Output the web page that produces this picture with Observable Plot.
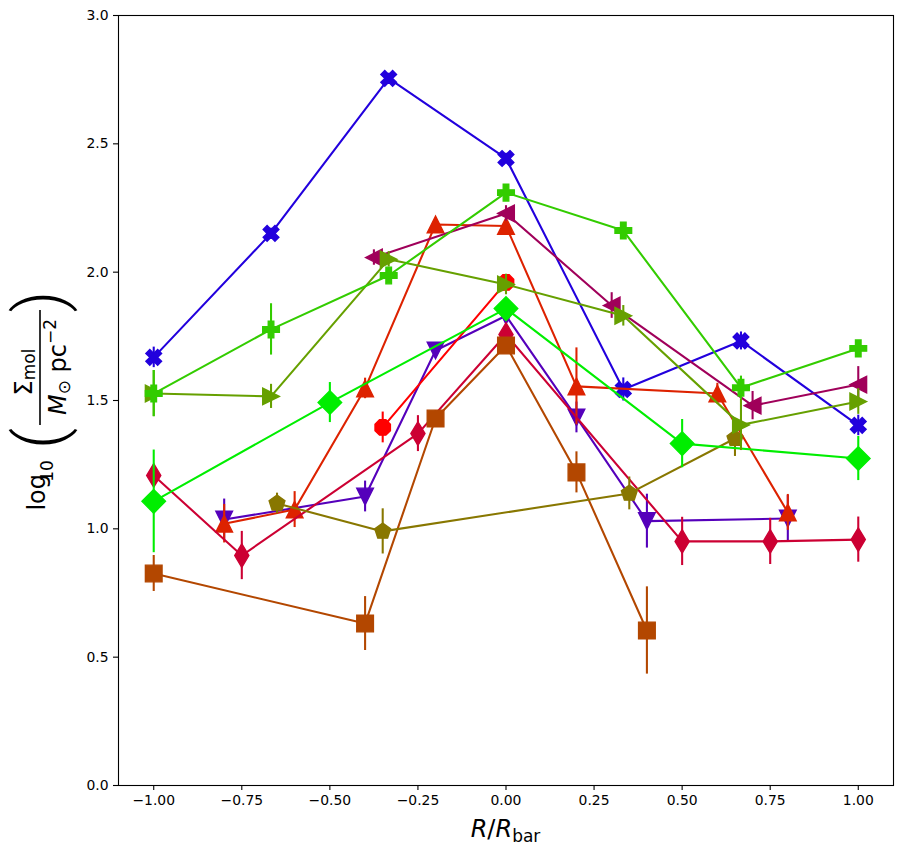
<!DOCTYPE html>
<html>
<head>
<meta charset="utf-8">
<script src="https://cdn.jsdelivr.net/npm/d3@7"></script>
<script src="https://cdn.jsdelivr.net/npm/@observablehq/plot@0.6"></script>
<style>
  html, body { margin: 0; padding: 0; background: white; }
  #chart { width: 906px; height: 854px; }
</style>
</head>
<body>
<div id="chart"></div>
<script>
// ---- tick values ----
const xTicks = [-1, -0.75, -0.5, -0.25, 0, 0.25, 0.5, 0.75, 1];
const yTicks = [0, 0.5, 1, 1.5, 2, 2.5, 3];

// ---- series data ----
const blueX = [-1, -0.667, -0.333, 0, 0.333, 0.667, 1];
const blueY = [1.668, 2.151, 2.755, 2.443, 1.543, 1.732, 1.403];
const blueE = [0.04, 0.02, 0.02, 0.02, 0.045, 0.035, 0.04];

const purpleX = [-0.8, -0.4, -0.2, 0, 0.2, 0.4, 0.8];
const purpleY = [1.036, 1.126, 1.695, 1.83, 1.434, 1.03, 1.04];
const purpleE = [0.08, 0.06, 0.03, 0.03, 0.06, 0.105, 0.09];

const redTriX = [-0.8, -0.6, -0.4, -0.2, 0, 0.2, 0.6, 0.8];
const redTriY = [1.02, 1.075, 1.547, 2.186, 2.18, 1.555, 1.527, 1.064];
const redTriE = [0.075, 0.07, 0.04, 0.02, 0.02, 0.15, 0.04, 0.07];

const octX = [-0.35, 0];
const octY = [1.395, 1.96];
const octE = [0.06, 0.02];

const crimsonX = [-1, -0.75, -0.25, 0, 0.5, 0.75, 1];
const crimsonY = [1.208, 0.896, 1.371, 1.757, 0.951, 0.951, 0.958];
const crimsonE = [0.04, 0.094, 0.07, 0.03, 0.094, 0.09, 0.088];

const brownX = [-1, -0.4, -0.2, 0, 0.2, 0.4];
const brownY = [0.826, 0.631, 1.43, 1.714, 1.22, 0.604];
const brownE = [0.07, 0.105, 0.03, 0.03, 0.08, 0.17];

const pentX = [-0.65, -0.35, 0.35, 0.65];
const pentY = [1.099, 0.99, 1.138, 1.352];
const pentE = [0.04, 0.088, 0.064, 0.07];

const magentaX = [-0.375, 0, 0.3, 0.7, 1];
const magentaY = [2.057, 2.229, 1.87, 1.48, 1.562];
const magentaE = [0.03, 0.03, 0.05, 0.055, 0.07];

const diamondX = [-1, -0.5, 0, 0.5, 1];
const diamondY = [1.107, 1.492, 1.858, 1.332, 1.274];
const diamondE = [0.2, 0.078, 0.03, 0.094, 0.086];

const oliveX = [-1, -0.667, -0.333, 0, 0.333, 0.667, 1];
const oliveY = [1.527, 1.516, 2.05, 1.952, 1.83, 1.405, 1.496];
const oliveE = [0.09, 0.047, 0.03, 0.04, 0.04, 0.1, 0.05];

const plusX = [-1, -0.667, -0.333, 0, 0.333, 0.667, 1];
const plusY = [1.527, 1.777, 1.987, 2.31, 2.162, 1.55, 1.703];
const plusE = [0.09, 0.1, 0.03, 0.02, 0.02, 0.045, 0.02];

// ---- marker shapes (unit half-size) ----
function poly(pts) {
  return {
    draw(ctx, size) {
      const h = Math.sqrt(size / Math.PI);
      ctx.moveTo(pts[0][0] * h, pts[0][1] * h);
      for (let i = 1; i < pts.length; i++) ctx.lineTo(pts[i][0] * h, pts[i][1] * h);
      ctx.closePath();
    }
  };
}
const dg = Math.SQRT2;
const t = 1 / 3;
const plusPts = [[-t,-1],[t,-1],[t,-t],[1,-t],[1,t],[t,t],[t,1],[-t,1],[-t,t],[-1,t],[-1,-t],[-t,-t]];
const rot45 = p => [(p[0] - p[1]) * Math.SQRT1_2, (p[0] + p[1]) * Math.SQRT1_2];
const regular = (n, a0) => d3.range(n).map(k => [Math.cos(a0 + 2 * Math.PI * k / n), Math.sin(a0 + 2 * Math.PI * k / n)]);

const symSquare = poly([[-1,-1],[1,-1],[1,1],[-1,1]]);
const symDiamond = poly([[0,-dg],[dg,0],[0,dg],[-dg,0]]);
const symThin = poly([[0,-dg],[0.6*dg,0],[0,dg],[-0.6*dg,0]]);
const symUp = poly([[0,-1],[1,1],[-1,1]]);
const symDown = poly([[0,1],[1,-1],[-1,-1]]);
const symLeft = poly([[-1,0],[1,-1],[1,1]]);
const symRight = poly([[1,0],[-1,-1],[-1,1]]);
const symOct = poly(regular(8, Math.PI / 8));
const symPent = poly(regular(5, -Math.PI / 2));
const symPlus = poly(plusPts);
const symX = poly(plusPts.map(rot45));

const series = [
  {x: blueX, y: blueY, e: blueE, color: "#2200dd", sym: symX},
  {x: purpleX, y: purpleY, e: purpleE, color: "#5500bb", sym: symDown},
  {x: redTriX, y: redTriY, e: redTriE, color: "#dd2200", sym: symUp},
  {x: octX, y: octY, e: octE, color: "#ff0000", sym: symOct},
  {x: crimsonX, y: crimsonY, e: crimsonE, color: "#cc0033", sym: symThin},
  {x: brownX, y: brownY, e: brownE, color: "#b34700", sym: symSquare},
  {x: pentX, y: pentY, e: pentE, color: "#887700", sym: symPent},
  {x: magentaX, y: magentaY, e: magentaE, color: "#a0005a", sym: symLeft},
  {x: diamondX, y: diamondY, e: diamondE, color: "#00ee00", sym: symDiamond},
  {x: oliveX, y: oliveY, e: oliveE, color: "#66a000", sym: symRight},
  {x: plusX, y: plusY, e: plusE, color: "#33cc00", sym: symPlus}
];

const LW = 2.08;
const R = 8.33;
const marks = [];
for (const s of series) {
  const rows = s.x.map((x, i) => ({x, y: s.y[i], e: s.e[i]}));
  marks.push(Plot.line(rows, {x: "x", y: "y", stroke: s.color, strokeWidth: LW}));
  marks.push(Plot.ruleX(rows, {x: "x", y1: d => d.y - d.e, y2: d => d.y + d.e, stroke: s.color, strokeWidth: LW}));
  marks.push(Plot.dot(rows, {x: "x", y: "y", r: R, symbol: s.sym, fill: s.color, stroke: s.color, strokeWidth: 1.39}));
}

const svg = Plot.plot({
  width: 906,
  height: 854,
  marginLeft: 118,
  marginRight: 13,
  marginTop: 15,
  marginBottom: 69,
  style: {fontFamily: "DejaVu Sans", fontSize: "13.9px", background: "white", color: "black", overflow: "visible"},
  x: {domain: [-1.1, 1.1]},
  y: {domain: [0, 3]},
  marks: [
    ...marks,
    Plot.frame({stroke: "black", strokeWidth: 1.1}),
    Plot.axisX({ticks: xTicks, tickFormat: d3.format(".2f"), tickSize: 5, tickPadding: 5, strokeWidth: 1.1, fontSize: 13.9, label: null, fill: "black"}),
    Plot.axisY({ticks: yTicks, tickFormat: d3.format(".1f"), tickSize: 5, tickPadding: 5, strokeWidth: 1.1, fontSize: 13.9, label: null, fill: "black"})
  ]
});

const sel = d3.select(svg);
// x label: R/R_bar
const xl = sel.append("text")
  .attr("x", 505.5).attr("y", 837)
  .attr("text-anchor", "middle")
  .attr("font-family", "DejaVu Sans")
  .attr("font-size", 24)
  .attr("fill", "black");
xl.append("tspan").attr("font-style", "italic").text("R");
xl.append("tspan").text("/");
xl.append("tspan").attr("font-style", "italic").text("R");
xl.append("tspan").attr("font-size", 17).attr("dy", 5).text("bar");

// y label: log10( Σmol / (M⊙ pc^-2) )
const g = sel.append("g")
  .attr("transform", "translate(0,367) rotate(-90)")
  .attr("font-family", "DejaVu Sans")
  .attr("fill", "black");
g.append("text").attr("x", -107).attr("y", 45).attr("text-anchor", "end").attr("font-size", 24).text("log");
g.append("text").attr("x", -104).attr("y", 53).attr("font-size", 17).text("10");
g.append("text")
  .attr("x", -71.5).attr("y", 62)
  .attr("text-anchor", "middle").attr("font-family", "Roboto").attr("font-weight", 300)
  .attr("font-size", 66).text("(");
g.append("text")
  .attr("x", 65.5).attr("y", 62)
  .attr("text-anchor", "middle").attr("font-family", "Roboto").attr("font-weight", 300)
  .attr("font-size", 66).text(")");
g.append("line").attr("x1", -58).attr("x2", 57).attr("y1", 40).attr("y2", 40)
  .attr("stroke", "black").attr("stroke-width", 1.6);
const num = g.append("text").attr("x", -5).attr("y", 32).attr("text-anchor", "middle").attr("font-size", 24);
num.append("tspan").text("Σ");
num.append("tspan").attr("font-size", 17).attr("dy", 3).text("mol");
const den = g.append("text").attr("x", 0).attr("y", 66).attr("text-anchor", "middle").attr("font-size", 24);
den.append("tspan").attr("font-style", "italic").text("M");
den.append("tspan").attr("font-size", 17).attr("dy", 4).text("⊙");
den.append("tspan").attr("dy", -4).text(" pc");
den.append("tspan").attr("font-size", 17).attr("dy", -10).text("−2");

document.getElementById("chart").appendChild(svg);
</script>
</body>
</html>
